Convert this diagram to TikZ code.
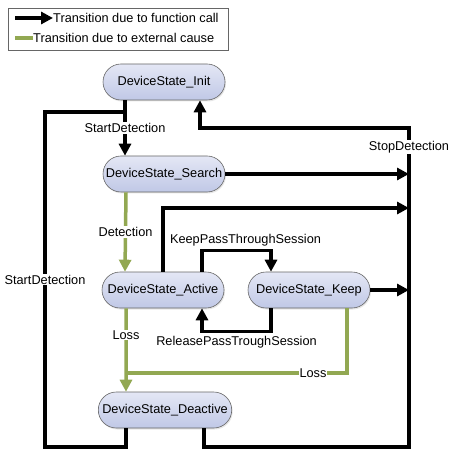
\documentclass[tikz,border=0pt]{standalone}
\usepackage{fontspec}
\setmainfont{Liberation Sans}
\usetikzlibrary{arrows.meta,shapes.misc,shadows}
\definecolor{extgreen}{RGB}{146,168,82}
\definecolor{statetop}{RGB}{228,231,245}
\definecolor{statebot}{RGB}{192,200,230}
\begin{document}
\begin{tikzpicture}[x=1bp,y=-1bp,
    font=\fontsize{12.8}{14}\selectfont,
    state/.style={rounded rectangle, draw=black!60, semithick, top color=statetop, bottom color=statebot,
      minimum width=128bp, minimum height=36bp, inner xsep=3bp,
      drop shadow={opacity=0.2, shadow xshift=1bp, shadow yshift=-1.5bp}},
    fcall/.style={line width=3.5bp, black, -{Triangle[length=12bp,width=12bp]}},
    fline/.style={line width=3.5bp, black},
    ecause/.style={line width=3.5bp, extgreen, -{Triangle[length=12bp,width=12bp]}},
    eline/.style={line width=3.5bp, extgreen},
    lbl/.style={fill=white, text=black, inner sep=1bp}]
    \useasboundingbox (0,0) rectangle (457,456);

    % legend
    \draw[black!60, semithick] (8,8) rectangle (228,50);
    \node[anchor=west, inner sep=0pt] (lgcall) at (53,18) {Transition due to function call};
    \node[anchor=west, inner sep=0pt] (lgext) at (33,38) {Transition due to external cause};
    \coordinate (lgcallA) at (15,18);
    \coordinate (lgextA) at (15,38);
    \draw[fcall] (lgcallA) -- (lgcall.west);
    \draw[eline] (lgextA) -- (lgext.west);

    % states
    \node[state] (init) at (164,82) {DeviceState\_Init};
    \node[state] (search) at (164,174) {DeviceState\_Search};
    \node[state] (active) at (163,290) {DeviceState\_Active};
    \node[state] (keep) at (309,290) {DeviceState\_Keep};
    \node[state] (deactive) at (165,410) {DeviceState\_Deactive};

    % corners of the outer loops
    \coordinate (botL) at (45,447);
    \coordinate (topL) at (45,112);
    \coordinate (botR) at (409,447);
    \coordinate (topR) at (409,128);
    \coordinate (midR) at (409,208);
    \coordinate (lossJ) at (126,373);
    \path ([xshift=-39bp]search.north) coordinate (sIn);

    % function calls
    \draw[fcall] ([xshift=-39bp]init.south) -- node[lbl]{StartDetection} (sIn);
    \draw[fline] ([xshift=-39bp]deactive.south) |- (botL) -- node[lbl]{StartDetection} (topL) -- (topL -| sIn);
    \draw[fcall] ([xshift=39bp]deactive.south) |- (botR) -- node[lbl, pos=0.94]{StopDetection} (topR) -| ([xshift=36bp]init.south);
    \draw[fcall] (search.east) -- (search.east -| topR);
    \draw[fcall] (active.north) |- (midR);
    \draw[fcall] (keep.east) -- (keep.east -| topR);
    \draw[fcall] ([xshift=39bp]active.north) -- ++(0,-21) -| node[pos=0.25, above, xshift=9bp, inner sep=3bp]{KeepPassThroughSession} ([xshift=-38bp]keep.north);
    \draw[fcall] ([xshift=-38bp]keep.south) -- ++(0,23) -| node[pos=0.25, below, inner sep=3bp]{ReleasePassTroughSession} ([xshift=39bp]active.south);

    % external causes
    \draw[ecause] ([xshift=-38bp]search.south) -- node[lbl]{Detection} ([xshift=-38bp]active.north);
    \draw[ecause] ([xshift=-37bp]active.south) -- node[lbl, pos=0.32]{Loss} ([xshift=-39bp]deactive.north);
    \draw[eline] ([xshift=38bp]keep.south) |- node[lbl, pos=0.577]{Loss} (lossJ);
\end{tikzpicture}
\end{document}
